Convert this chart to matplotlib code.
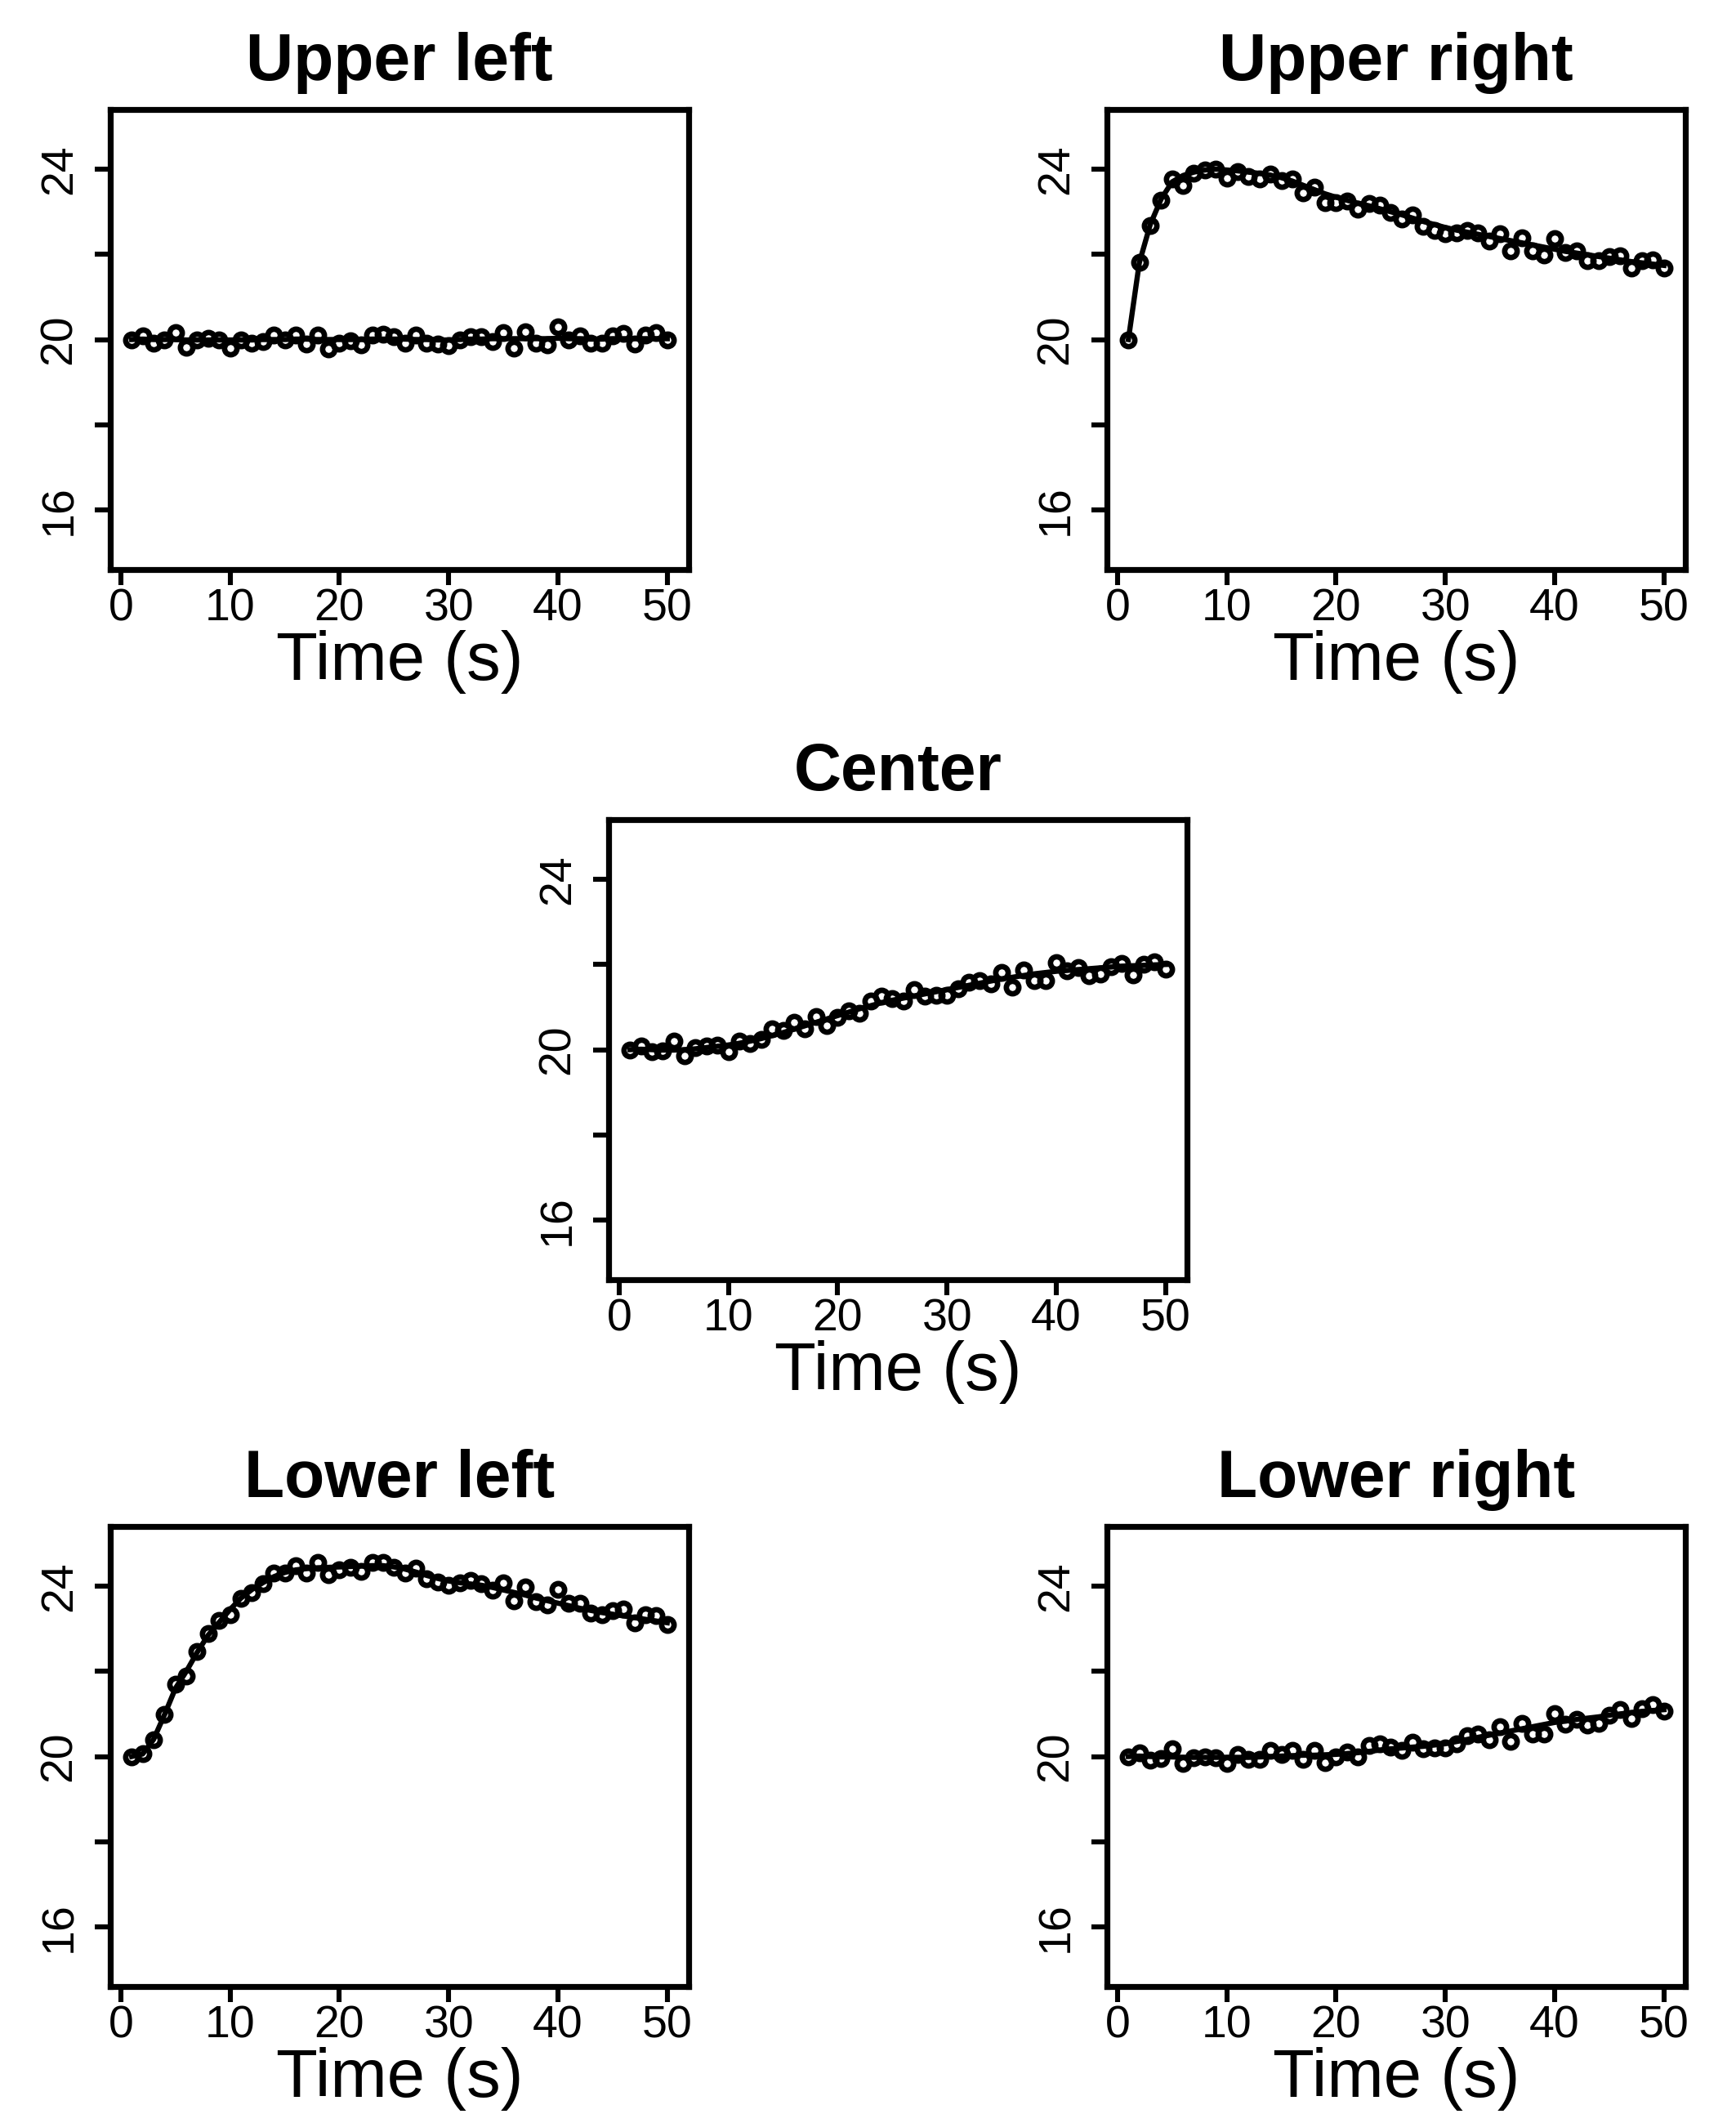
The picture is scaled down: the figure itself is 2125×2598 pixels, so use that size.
import numpy as np
import matplotlib
matplotlib.use("Agg")
import matplotlib.pyplot as plt

plt.rcParams['font.family'] = ['Liberation Sans', 'DejaVu Sans']

# time axis
t = list(range(1, 51))

# observed points per panel
ul_pts = [20.0, 20.08, 19.92, 20.0, 20.17, 19.81, 20.0, 20.02, 20.0, 19.79,
          20.0, 19.91, 19.95, 20.11, 20.0, 20.1, 19.89, 20.11, 19.77, 19.91,
          19.98, 19.87, 20.11, 20.13, 20.06, 19.91, 20.1, 19.91, 19.89, 19.85,
          20.0, 20.06, 20.06, 19.96, 20.17, 19.8, 20.19, 19.91, 19.87, 20.3,
          20.0, 20.08, 19.91, 19.92, 20.08, 20.15, 19.89, 20.11, 20.17, 20.0]
ur_pts = [20.0, 21.81, 22.68, 23.27, 23.77, 23.62, 23.9, 23.98, 24.0, 23.79,
          23.95, 23.83, 23.77, 23.89, 23.74, 23.77, 23.45, 23.58, 23.21, 23.22,
          23.25, 23.06, 23.19, 23.15, 22.98, 22.83, 22.92, 22.66, 22.57, 22.49,
          22.51, 22.57, 22.51, 22.32, 22.49, 22.08, 22.38, 22.09, 21.98, 22.36,
          22.04, 22.09, 21.85, 21.85, 21.94, 21.96, 21.68, 21.85, 21.87, 21.68]
c_pts = [20.0, 20.09, 19.96, 19.98, 20.2, 19.85, 20.04, 20.08, 20.1, 19.96,
         20.21, 20.15, 20.24, 20.49, 20.45, 20.64, 20.49, 20.78, 20.57, 20.75,
         20.92, 20.85, 21.15, 21.25, 21.19, 21.15, 21.41, 21.26, 21.28, 21.28,
         21.43, 21.58, 21.62, 21.55, 21.81, 21.47, 21.87, 21.62, 21.62, 22.05,
         21.85, 21.92, 21.74, 21.77, 21.95, 22.02, 21.75, 22.0, 22.06, 21.89]
ll_pts = [20.0, 20.06, 20.4, 20.98, 21.7, 21.88, 22.46, 22.88, 23.2, 23.32,
          23.72, 23.85, 24.05, 24.3, 24.3, 24.48, 24.3, 24.55, 24.27, 24.39,
          24.45, 24.34, 24.55, 24.55, 24.44, 24.3, 24.42, 24.17, 24.1, 24.02,
          24.08, 24.14, 24.05, 23.9, 24.08, 23.65, 23.98, 23.64, 23.55, 23.92,
          23.6, 23.6, 23.37, 23.32, 23.42, 23.46, 23.14, 23.33, 23.3, 23.09]
lr_pts = [20.0, 20.09, 19.92, 19.96, 20.19, 19.83, 19.98, 20.0, 19.98, 19.83,
          20.04, 19.94, 19.94, 20.15, 20.04, 20.15, 19.94, 20.15, 19.86, 20.0,
          20.11, 20.0, 20.25, 20.29, 20.23, 20.14, 20.34, 20.19, 20.2, 20.2,
          20.3, 20.49, 20.53, 20.4, 20.7, 20.36, 20.78, 20.53, 20.53, 21.0,
          20.75, 20.88, 20.74, 20.78, 20.97, 21.1, 20.89, 21.12, 21.21, 21.07]

# fitted curves per panel
ul_fit = [20.0, 20.01, 20.0, 20.0, 20.0, 19.99, 19.99, 19.99, 19.99, 19.99,
          19.99, 19.99, 20.0, 20.0, 20.0, 20.01, 20.01, 20.0, 20.0, 20.0,
          20.0, 20.0, 20.01, 20.01, 20.01, 20.01, 20.0, 20.0, 19.99, 19.99,
          20.0, 20.01, 20.01, 20.02, 20.02, 20.02, 20.02, 20.02, 20.02, 20.03,
          20.02, 20.02, 20.01, 20.01, 20.02, 20.02, 20.02, 20.02, 20.02, 20.02]
ur_fit = [20.0, 21.8, 22.7, 23.3, 23.7, 23.85, 23.93, 23.98, 24.0, 23.98,
          23.96, 23.93, 23.9, 23.86, 23.8, 23.72, 23.62, 23.52, 23.42, 23.34,
          23.27, 23.2, 23.14, 23.07, 23.0, 22.93, 22.85, 22.77, 22.7, 22.63,
          22.57, 22.52, 22.47, 22.42, 22.37, 22.32, 22.27, 22.22, 22.17, 22.12,
          22.07, 22.03, 21.99, 21.95, 21.91, 21.87, 21.83, 21.8, 21.77, 21.74]
c_fit = [20.0, 20.01, 20.0, 19.99, 19.99, 20.0, 20.02, 20.05, 20.08, 20.11,
         20.15, 20.2, 20.26, 20.33, 20.4, 20.48, 20.56, 20.64, 20.72, 20.8,
         20.88, 20.96, 21.03, 21.1, 21.16, 21.21, 21.26, 21.31, 21.36, 21.41,
         21.46, 21.51, 21.56, 21.61, 21.66, 21.7, 21.74, 21.78, 21.81, 21.84,
         21.86, 21.88, 21.9, 21.92, 21.94, 21.96, 21.97, 21.98, 21.99, 22.0]
ll_fit = [20.0, 20.06, 20.4, 20.98, 21.6, 22.0, 22.45, 22.85, 23.15, 23.45,
          23.72, 23.92, 24.08, 24.22, 24.32, 24.38, 24.41, 24.43, 24.44, 24.45,
          24.46, 24.47, 24.48, 24.48, 24.45, 24.4, 24.33, 24.25, 24.18, 24.12,
          24.08, 24.05, 24.02, 23.97, 23.91, 23.85, 23.79, 23.72, 23.66, 23.6,
          23.54, 23.48, 23.43, 23.38, 23.34, 23.3, 23.26, 23.22, 23.18, 23.14]
lr_fit = [20.0, 20.01, 20.0, 19.99, 19.99, 19.98, 19.98, 19.98, 19.98, 19.98,
          19.98, 19.98, 19.99, 20.0, 20.01, 20.02, 20.03, 20.03, 20.04, 20.05,
          20.07, 20.09, 20.12, 20.15, 20.18, 20.2, 20.22, 20.24, 20.27, 20.3,
          20.35, 20.4, 20.45, 20.5, 20.55, 20.6, 20.65, 20.7, 20.75, 20.8,
          20.83, 20.87, 20.9, 20.93, 20.97, 21.0, 21.03, 21.06, 21.08, 21.1]

titles = ["Upper left", "Upper right", "Center", "Lower left", "Lower right"]
yticks = [16, 18, 20, 22, 24]
ytick_labels = ["16", "", "20", "", "24"]
xticks = [0, 10, 20, 30, 40, 50]

W, H = 2125, 2598
fig = plt.figure(figsize=(W / 200, H / 200), dpi=200)

aw, ah = 708 / W, 563 / H
# [left, bottom] of each panel in figure fraction
corners = [(135 / W, 1 - 697 / H), (1355 / W, 1 - 697 / H),
           (745 / W, 1 - 1566 / H),
           (135 / W, 1 - 2431 / H), (1355 / W, 1 - 2431 / H)]

panels = [(ul_pts, ul_fit), (ur_pts, ur_fit), (c_pts, c_fit),
          (ll_pts, ll_fit), (lr_pts, lr_fit)]

for (x0, y0), title, (pts, fit) in zip(corners, titles, panels):
    ax = fig.add_axes([x0, y0, aw, ah])
    ax.plot(t, pts, 'o', ms=5.5, mfc='none', mec='black', mew=2.4)
    ax.plot(t, fit, '-', color='black', lw=2.3)
    ax.set_xlim(-0.96, 51.96)
    ax.set_ylim(14.6, 25.4)
    ax.set_xticks(xticks)
    ax.set_yticks(yticks)
    ax.set_yticklabels(ytick_labels, rotation=90, va='center')
    ax.tick_params(axis='both', direction='out', length=7, width=2.2,
                   labelsize=20, color='black')
    ax.tick_params(axis='x', pad=1)
    ax.tick_params(axis='y', pad=6)
    for sp in ax.spines.values():
        sp.set_linewidth(2.6)
    ax.set_title(title, fontsize=29, fontweight='bold', pad=13)
    ax.set_xlabel("Time (s)", fontsize=30, labelpad=0)

fig.savefig("out.png", dpi=200)
